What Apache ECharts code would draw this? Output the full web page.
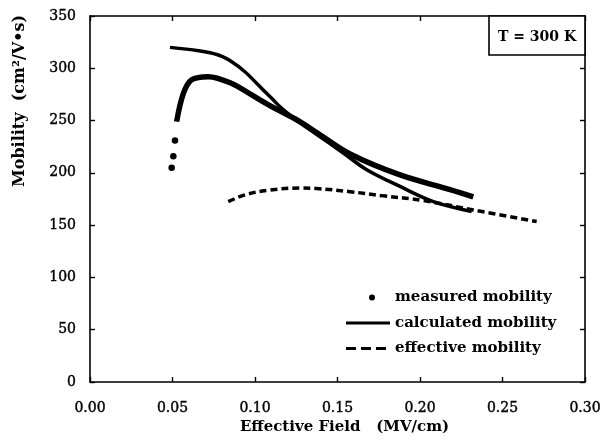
<!DOCTYPE html>
<html>
<head>
<meta charset="utf-8">
<script src="https://cdn.jsdelivr.net/npm/echarts@6/dist/echarts.min.js"></script>
<style>
html,body{margin:0;padding:0;background:#fff;}
#c{width:607px;height:445px;}
</style>
</head>
<body>
<div id="c"></div>
<script>
// ---- data ----
const measuredX = [0.0495, 0.0505, 0.0515, 0.0525, 0.0566, 0.0616, 0.0717, 0.0859, 0.098, 0.1121, 0.1262, 0.1374, 0.1576, 0.1879, 0.2182, 0.2323];
const measuredY = [205, 216, 231, 249, 276, 289, 292, 285.5, 274.5, 261.7, 250, 238.5, 218, 198, 184, 177];
const isolatedCount = 3; // first measured points appear as separate dots
const calcX = [0.0485, 0.0657, 0.0778, 0.0859, 0.0939, 0.102, 0.1101, 0.1162, 0.1262, 0.1364, 0.1535, 0.1677, 0.1879, 0.2081, 0.2313];
const calcY = [320, 316.8, 312.7, 306.3, 296.7, 284, 271.3, 261.7, 249, 237.8, 219, 203, 187, 172.5, 163];
const effX = [0.0838, 0.095, 0.109, 0.1273, 0.1374, 0.1576, 0.1778, 0.202, 0.2323, 0.2707];
const effY = [172.5, 179.5, 183.5, 185.5, 185, 182, 178, 173.5, 164.5, 153.5];
const xTicks = ['0.00', '0.05', '0.10', '0.15', '0.20', '0.25', '0.30'];
const yTicks = ['0', '50', '100', '150', '200', '250', '300', '350'];
const seriesNames = ['measured mobility', 'calculated mobility', 'effective mobility'];
const xName = 'Effective Field   (MV/cm)';
const yName = 'Mobility  (cm\u00B2/V\u2022s)';
const tempLabel = 'T = 300 K';

const zip = (xs, ys) => xs.map((x, i) => [x, ys[i]]);
const FONT = 'DejaVu Serif';
const INK = '#000';

const chart = echarts.init(document.getElementById('c'), null, {renderer: 'canvas'});
const commonAxis = {
  axisLine: {show: true, onZero: false, lineStyle: {color: INK, width: 1.6}},
  axisTick: {show: true, inside: true, length: 5, lineStyle: {color: INK, width: 1.4}},
  splitLine: {show: false}
};
const tickFont = {fontFamily: FONT, fontSize: 14, color: INK, textBorderColor: INK, textBorderWidth: 0.4};
const measured = zip(measuredX, measuredY);
chart.setOption({
  animation: false,
  backgroundColor: '#fff',
  textStyle: {fontFamily: FONT, color: INK},
  grid: {left: 90, top: 16, right: 22, bottom: 63, containLabel: false},
  xAxis: [
    Object.assign({
      type: 'value', min: 0, max: 0.30, interval: 0.05, position: 'bottom',
      name: xName, nameLocation: 'middle', nameGap: 38,
      nameTextStyle: {fontFamily: FONT, fontSize: 15, fontWeight: 'bold', color: INK, padding: [0, 0, 0, 14]},
      axisLabel: Object.assign({margin: 19, formatter: (v) => xTicks[Math.round(v / 0.05)]}, tickFont)
    }, commonAxis),
    Object.assign({
      type: 'value', min: 0, max: 0.30, interval: 0.05, position: 'top',
      axisLabel: {show: false}
    }, commonAxis)
  ],
  yAxis: [
    Object.assign({
      type: 'value', min: 0, max: 350, interval: 50, position: 'left',
      axisLabel: Object.assign({margin: 14, formatter: (v) => yTicks[Math.round(v / 50)]}, tickFont)
    }, commonAxis),
    Object.assign({
      type: 'value', min: 0, max: 350, interval: 50, position: 'right',
      axisLabel: {show: false}
    }, commonAxis)
  ],
  legend: {
    orient: 'vertical', left: 346, top: 290, padding: 0,
    itemWidth: 44, itemHeight: 14, itemGap: 10.5,
    textStyle: {fontFamily: FONT, fontSize: 15, fontWeight: 'bold', color: INK},
    data: [
      {name: seriesNames[0], icon: 'path://M0,0M44,14M26,7m-3,0a3,3 0 1,0 6,0a3,3 0 1,0 -6,0z'},
      {name: seriesNames[1], icon: 'path://M0,0M44,14M0,5.5h44v3h-44z'},
      {name: seriesNames[2], icon: 'path://M0,0M44,14M0,5.5h10v3h-10zM15,5.5h10v3h-10zM30,5.5h10v3h-10z'}
    ]
  },
  graphic: [
    {type: 'rect', shape: {x: 489, y: 16, width: 96, height: 39},
      style: {fill: '#fff', stroke: INK, lineWidth: 1.6}, z: 100},
    {type: 'text', x: 537, y: 37, z: 101,
      style: {text: tempLabel, fontFamily: FONT, fontSize: 14, fontWeight: 'bold', fill: INK, align: 'center', verticalAlign: 'middle'}},
    {type: 'text', x: 20, y: 101, rotation: Math.PI / 2, z: 101,
      style: {text: yName, fontFamily: FONT, fontSize: 16, fontWeight: 'bold', fill: INK, align: 'center', verticalAlign: 'middle'}}
  ],
  series: [
    {
      name: seriesNames[0], type: 'scatter', xAxisIndex: 0, yAxisIndex: 0,
      symbol: 'circle', symbolSize: 6.5,
      itemStyle: {color: INK, opacity: 1},
      data: measured.slice(0, isolatedCount)
    },
    {
      name: 'measured trace', type: 'line', smooth: 0.35, showSymbol: false, symbol: 'none',
      lineStyle: {color: INK, width: 5.5},
      data: measured.slice(isolatedCount)
    },
    {
      name: seriesNames[1], type: 'line', smooth: 0.35, showSymbol: false, symbol: 'none',
      itemStyle: {color: INK},
      lineStyle: {color: INK, width: 3.5},
      data: zip(calcX, calcY)
    },
    {
      name: seriesNames[2], type: 'line', smooth: 0.4, showSymbol: false, symbol: 'none',
      itemStyle: {color: INK},
      lineStyle: {color: INK, width: 3.5, type: [7, 4]},
      data: zip(effX, effY)
    }
  ]
});
</script>
</body>
</html>
